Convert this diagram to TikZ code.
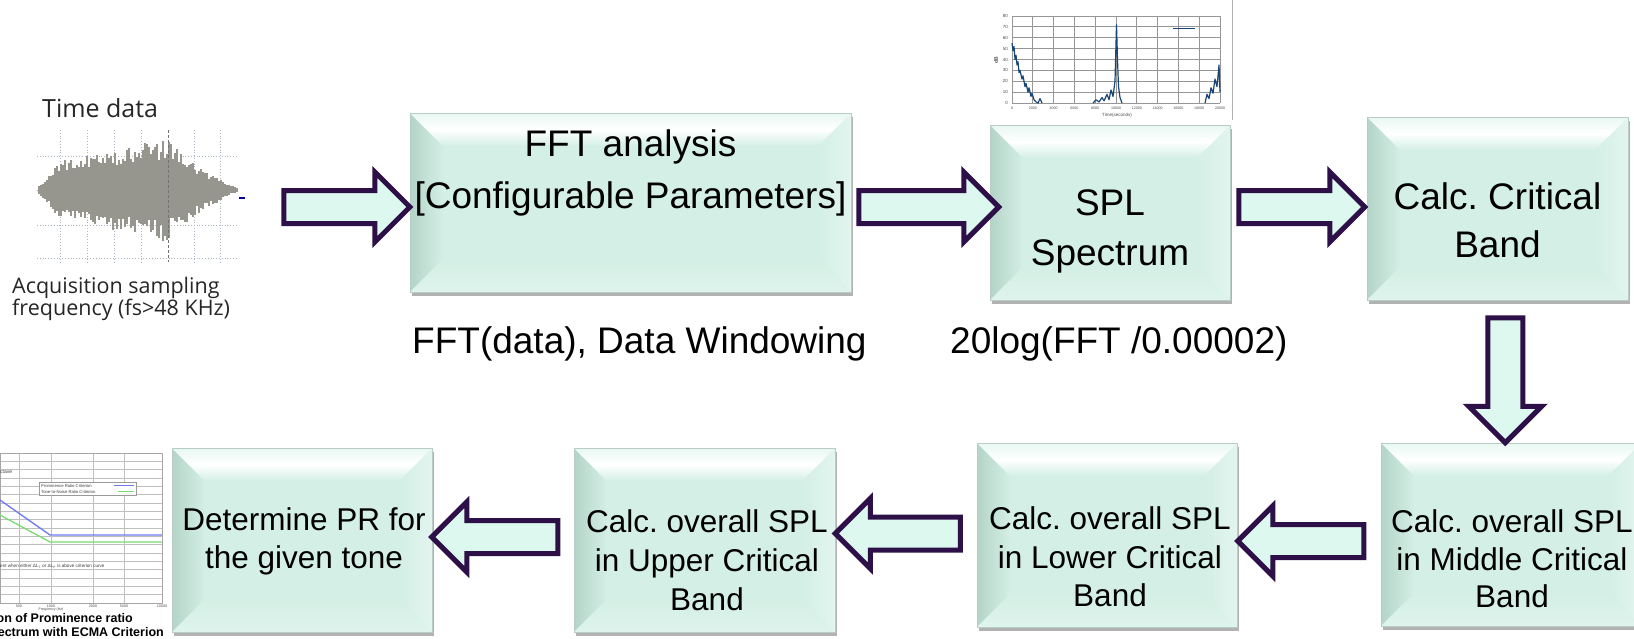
\documentclass[tikz,border=0pt]{standalone}
\usepackage{fontspec}
\setmainfont{Liberation Sans}
\newfontfamily\notefont{Open Sans}
\usetikzlibrary{shapes.arrows,shadows,calc}

\definecolor{mintc}{RGB}{212,239,229}
\definecolor{minttop}{RGB}{232,248,242}
\definecolor{mintleft}{RGB}{180,212,200}
\definecolor{mintright}{RGB}{226,245,238}
\definecolor{mintbot}{RGB}{222,244,236}
\definecolor{boxline}{RGB}{185,205,198}
\definecolor{arrfill}{RGB}{220,248,239}
\definecolor{arrline}{RGB}{45,16,72}
\definecolor{gridc}{RGB}{150,150,150}
\definecolor{wgridc}{RGB}{170,180,195}
\definecolor{wavec}{RGB}{150,150,143}
\definecolor{specc}{RGB}{25,70,120}
\definecolor{prblue}{RGB}{110,120,240}
\definecolor{prgreen}{RGB}{120,220,110}

\newcommand\setfs[2]{\fontsize{#1}{#2}\selectfont}

\begin{document}
\frenchspacing
\begin{tikzpicture}[x=1pt,y=1pt,
  bevelbox/.style={rectangle, draw=boxline, line width=0.6pt, fill=mintc, inner sep=0pt,
    drop shadow={shadow xshift=2pt, shadow yshift=-4pt, opacity=0.3, fill=black},
    path picture={
      \coordinate (pNW) at (path picture bounding box.north west);
      \coordinate (pNE) at (path picture bounding box.north east);
      \coordinate (pSW) at (path picture bounding box.south west);
      \coordinate (pSE) at (path picture bounding box.south east);
      \shade[left color=mintleft, right color=mintc]
        (pNW) -- ([shift={(33pt,-33pt)}]pNW) -- ([shift={(33pt,33pt)}]pSW) -- (pSW) -- cycle;
      \shade[left color=mintc, right color=mintright]
        (pNE) -- ([shift={(-33pt,-33pt)}]pNE) -- ([shift={(-33pt,33pt)}]pSE) -- (pSE) -- cycle;
      \shade[top color=minttop, bottom color=mintc, middle color=white]
        (pNW) -- (pNE) -- ([shift={(-33pt,-33pt)}]pNE) -- ([shift={(33pt,-33pt)}]pNW) -- cycle;
      \shade[top color=mintc, bottom color=mintbot]
        (pSW) -- (pSE) -- ([shift={(-33pt,33pt)}]pSE) -- ([shift={(33pt,33pt)}]pSW) -- cycle;
    }},
  boxtext/.style={align=center, inner sep=0pt, text=black},
  captext/.style={inner sep=0pt, text=black, font=\setfs{37}{44}},
  blockarrow/.style={single arrow, draw=arrline, line width=5pt, fill=arrfill,
    inner xsep=0pt, inner ysep=14pt, outer sep=0pt, minimum width=65pt,
    single arrow head extend=18.5pt, single arrow tip angle=90},
  wgrid/.style={wgridc, line width=0.8pt, dotted},
  wave/.style={wavec, line width=1.3pt},
  sgrid/.style={gridc, line width=0.8pt},
  specline/.style={specc, line width=1.2pt, line join=round},
  ticklab/.style={inner sep=0pt, text=black!70, font=\setfs{4.5}{5}},
  pgrid/.style={black!25, line width=0.5pt},
  tinytext/.style={inner sep=0pt, text=black!75, font=\setfs{5}{6}},
]
\fill[white] (0,0) rectangle (1634,-638);
\useasboundingbox (0,0) rectangle (1634,-638);

% ---------- time signal sketch ----------
\node[inner sep=0pt, anchor=base west, font=\notefont\setfs{25}{30}, text=black!85] (tdata) at (42,-117) {Time data};
\foreach \gx in {60,87,114,141,194,220}
  \draw[wgrid] (\gx,-130) -- (\gx,-262);
\foreach \gy in {156,190,225,258}
  \draw[wgrid] (37,-\gy) -- (237,-\gy);
\pgfmathsetseed{11}
\foreach \i in {0,...,99} {
  \pgfmathsetmacro\xx{39+\i*2}
  \pgfmathsetmacro\env{\xx<60 ? 3+27*(\xx-38)/22 : (\xx<165 ? 30+22*(\xx-60)/105 : (\xx<205 ? 52-32*(\xx-165)/40 : max(2,20-18*(\xx-205)/32)))}
  \pgfmathsetmacro\up{\env*(0.6+0.4*rnd)}
  \pgfmathsetmacro\dn{\env*(0.6+0.4*rnd)}
  \draw[wave] (\xx,-190+\up) -- (\xx,-190-\dn);
}
\draw[black!55, line width=0.9pt, densely dashed] (168,-130) -- (168,-262);
\draw[blue!60!black, line width=1.3pt] (239,-198) -- (245,-198);
\node[inner sep=0pt, anchor=base west, font=\notefont\setfs{21.5}{22}, text=black!85] (acq1) at (12,-293) {Acquisition sampling};
\node[inner sep=0pt, anchor=base west, font=\notefont\setfs{21.5}{22}, text=black!85] (acq2) at (12,-315) {frequency (fs>48 KHz)};

% ---------- spectrum plot ----------
\draw[black!30, line width=0.8pt] (1232,0) -- (1232,-120);
\foreach \k in {0,...,10}
  \draw[sgrid] ({1012+\k*20.8},-16) -- ({1012+\k*20.8},-103);
\foreach \k in {0,...,8}
  \draw[sgrid] (1012,{-16-\k*10.875}) -- (1220,{-16-\k*10.875});
\foreach \v [count=\k from 0] in {0,10,...,80}
  \node[ticklab, anchor=east] (yt\k) at (1008,{-103+\v*1.0875}) {\v};
\foreach \k/\val in {0/0,1/2000,2/4000,3/6000,4/8000,5/10000,6/12000,7/14000,8/16000,9/18000,10/20000}
  \node[ticklab, font=\setfs{3.6}{4}] (xt\k) at ({1012+\k*20.8},-108.5) {\val};
\node[ticklab] (slab) at (1117,-115) {Time(seconds)};
\node[ticklab, rotate=90, font=\bfseries\setfs{5}{6}] (ylab) at (996,-60) {dB};
\draw[specline] (1012,{-103+55*1.0875}) -- (1013,{-103+48*1.0875}) -- (1014,{-103+52*1.0875})
  -- (1015,{-103+40*1.0875}) -- (1016,{-103+44*1.0875}) -- (1017,{-103+35*1.0875})
  -- (1018,{-103+38*1.0875}) -- (1019,{-103+28*1.0875}) -- (1020,{-103+30*1.0875})
  -- (1022,{-103+22*1.0875}) -- (1023,{-103+25*1.0875}) -- (1025,{-103+15*1.0875})
  -- (1026,{-103+18*1.0875}) -- (1028,{-103+10*1.0875}) -- (1029,{-103+14*1.0875})
  -- (1031,{-103+6*1.0875}) -- (1032,{-103+9*1.0875}) -- (1034,{-103+3*1.0875})
  -- (1036,{-103+1*1.0875}) -- (1038,-103) -- (1040,{-103+4*1.0875}) -- (1042,-103);
\draw[specline] (1093,-103) -- (1096,{-103+3*1.0875}) -- (1099,{-103+1*1.0875})
  -- (1102,{-103+5*1.0875}) -- (1104,{-103+2*1.0875}) -- (1107,{-103+8*1.0875})
  -- (1109,{-103+3*1.0875}) -- (1111,{-103+12*1.0875}) -- (1113,{-103+6*1.0875})
  -- (1115,{-103+20*1.0875}) -- (1116.5,{-103+72*1.0875}) -- (1117.5,{-103+40*1.0875})
  -- (1118.5,{-103+15*1.0875}) -- (1120,{-103+5*1.0875}) -- (1122,-103);
\draw[specline] (1205,-103) -- (1207,{-103+8*1.0875}) -- (1209,{-103+4*1.0875})
  -- (1211,{-103+14*1.0875}) -- (1213,{-103+9*1.0875}) -- (1215,{-103+22*1.0875})
  -- (1217,{-103+15*1.0875}) -- (1219,{-103+35*1.0875}) -- (1220,{-103+10*1.0875});
\draw[specc, line width=1pt] (1173,-28) -- (1195,-28);

% ---------- prominence ratio plot ----------
\foreach \k in {1,...,17}
  \draw[pgrid] (0,{-453-\k*8.33}) -- (162,{-453-\k*8.33});
\foreach \gx in {19,51,93,124}
  \draw[pgrid] (\gx,-453) -- (\gx,-603);
\draw[black!35, line width=0.6pt] (0,-453) rectangle (162,-603);
\node[tinytext, anchor=west] (oct) at (0,-472) {ctave};
\draw[black!40, fill=white, line width=0.4pt] (39,-482) rectangle (136,-495);
\node[tinytext, anchor=west, font=\setfs{4.2}{5}] (lg1) at (41,-485.5) {Prominence Ratio Criterion};
\node[tinytext, anchor=west, font=\setfs{4.2}{5}] (lg2) at (41,-491.5) {Tone-to-Noise Ratio Criterion};
\draw[prblue, line width=1pt] (114,-485.5) -- (134,-485.5);
\draw[prgreen, line width=1pt] (118,-491.5) -- (134,-491.5);
\draw[prblue, line width=1.3pt] (0,-500) -- (50,-535) -- (162,-535);
\draw[prgreen, line width=1.3pt] (0,-515) -- (50,-542) -- (162,-542);
\node[tinytext, anchor=west, font=\setfs{4.6}{5}] (critnote) at (0,-566) {ent when either ΔL\textsubscript{T} or ΔL\textsubscript{P} is above criterion curve};
\foreach \gx/\lab [count=\k] in {19/500,51/1000,93/2000,124/5000,162/10000}
  \node[ticklab, font=\setfs{3.6}{4}] (pt\k) at (\gx,-606) {\lab};
\node[ticklab, font=\setfs{3.6}{4}] (plab) at (51,-610) {Frequency (Hz)};
\node[inner sep=0pt, anchor=base east, font=\bfseries\setfs{12.5}{14}] (pcap1) at (133,-622.5) {on of Prominence ratio};
\node[inner sep=0pt, anchor=base east, font=\bfseries\setfs{12.5}{14}] (pcap2) at (164,-636.5) {ectrum with ECMA Criterion};

% ---------- process blocks ----------
\node[bevelbox, minimum width=441pt, minimum height=179pt] (fft) at (630.5,-202.5) {};
\node[bevelbox, minimum width=240pt, minimum height=175pt] (spl) at (1110,-212.5) {};
\node[bevelbox, minimum width=261pt, minimum height=183pt] (crit) at (1497.5,-208.5) {};
\node[bevelbox, minimum width=260pt, minimum height=183pt] (mid) at (1511,-534.5) {};
\node[bevelbox, minimum width=260pt, minimum height=184pt] (low) at (1107,-535) {};
\node[bevelbox, minimum width=261pt, minimum height=184pt] (upp) at (704.5,-540) {};
\node[bevelbox, minimum width=260pt, minimum height=184pt] (pr) at (302,-540) {};

\node[boxtext, font=\setfs{37}{52}] (fftT) at (630.5,-172.7) {FFT analysis\\{[}Configurable Parameters{]}};
\node[boxtext, font=\setfs{37}{50}] (splT) at (1110,-231.5) {SPL\\Spectrum};
\node[boxtext, font=\setfs{37}{48}] (critT) at (1497.5,-220.5) {Calc. Critical\\Band};
\node[boxtext, font=\setfs{31.5}{37.5}] (midT) at (1512,-559) {Calc. overall SPL\\in Middle Critical\\Band};
\node[boxtext, font=\setfs{31.5}{38.5}] (lowT) at (1110,-557) {Calc. overall SPL\\in Lower Critical\\Band};
\node[boxtext, font=\setfs{31.5}{39}] (uppT) at (707,-560) {Calc. overall SPL\\in Upper Critical\\Band};
\node[boxtext, font=\setfs{31.5}{38}] (prT) at (304,-541.8) {Determine PR for\\the given tone};

% ---------- block arrows ----------
\node[blockarrow, minimum height=126pt] (a1) at ($(fft.west |- 0,-207)+(-71,0)$) {};
\node[blockarrow, minimum height=140pt] (a2) at ($(fft.east |- 0,-207)!0.5!(spl.west |- 0,-207)$) {};
\node[blockarrow, minimum height=126pt] (a3) at ($(spl.east |- 0,-207)!0.5!(crit.west |- 0,-207)+(-5,0)$) {};
\node[blockarrow, minimum height=125pt, minimum width=68pt, inner ysep=15pt, single arrow head extend=19pt, rotate=-90] (a4) at ($(crit.south)!0.5!(mid.north)+(1,0)$) {};
\node[blockarrow, minimum height=126pt, rotate=180] (a5) at ($(low.east |- 0,-541)!0.5!(mid.west |- 0,-541)$) {};
\node[blockarrow, minimum height=125pt, rotate=180] (a6) at ($(upp.east |- 0,-533.5)!0.5!(low.west |- 0,-533.5)$) {};
\node[blockarrow, minimum height=126pt, rotate=180] (a7) at ($(pr.east |- 0,-537)!0.5!(upp.west |- 0,-537)$) {};

% ---------- formulas under the blocks ----------
\begin{scope}
  \clip (0,0) rectangle (863,-400);
  \node[captext, anchor=base west] (capfft) at (412,-353) {FFT(data), Data Windowing};
\end{scope}
\node[captext, anchor=base west] (capspl) at (950,-353) {20log(FFT /0.00002)};
\end{tikzpicture}
\end{document}
